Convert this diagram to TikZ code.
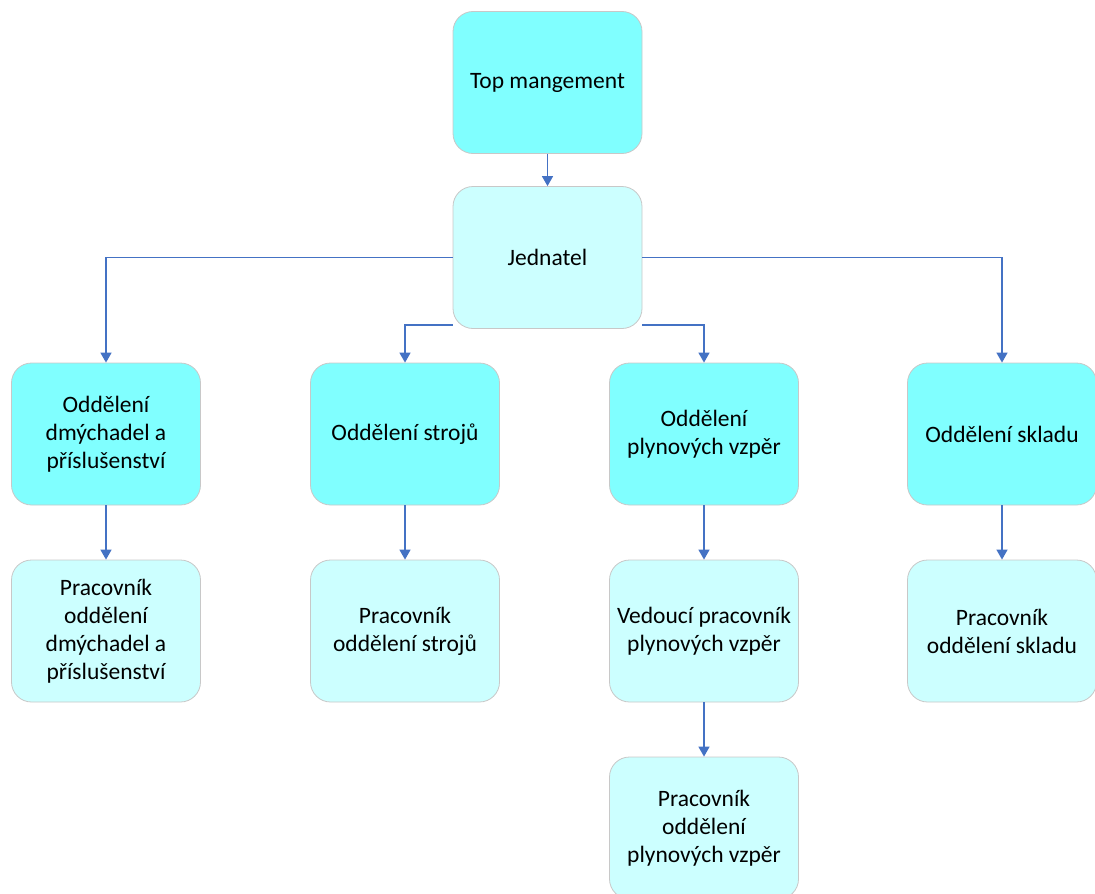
\documentclass[tikz,border=0pt]{standalone}
\usepackage{fontspec}
\setmainfont{Carlito}
\usetikzlibrary{arrows.meta}
\definecolor{dark}{RGB}{128,255,255}
\definecolor{light}{RGB}{204,255,255}
\definecolor{edge}{RGB}{200,200,200}
\definecolor{conn}{RGB}{68,114,196}
\tikzset{
  box/.style={draw=edge, line width=0.8pt, rounded corners=20pt, minimum width=189pt, minimum height=142pt, align=center, font=\fontsize{23.5}{28}\selectfont, inner sep=0pt},
  dbox/.style={box, fill=dark},
  lbox/.style={box, fill=light},
  conn/.style={draw=conn, line width=1.5pt, -{Triangle[width=11pt,length=10pt]}}
}
\begin{document}
\begin{tikzpicture}[x=1pt,y=-1pt]
\useasboundingbox (0,0) rectangle (1095,894);
\clip (0,0) rectangle (1095,894);
\node[dbox] (top) at (547.5,82.5) {Top mangement};
\node[lbox] (jed) at (547.5,257.5) {Jednatel};
\node[dbox] (o1) at (106,434) {Oddělení\\dmýchadel a\\příslušenství};
\node[dbox] (o2) at (405,434) {Oddělení strojů};
\node[dbox] (o3) at (704,434) {Oddělení\\plynových vzpěr};
\node[dbox] (o4) at (1002,434) {Oddělení skladu};
\node[lbox] (p1) at (106,631) {Pracovník\\oddělení\\dmýchadel a\\příslušenství};
\node[lbox] (p2) at (405,631) {Pracovník\\oddělení strojů};
\node[lbox] (p3) at (704,631) {Vedoucí pracovník\\plynových vzpěr};
\node[lbox] (p4) at (1002,631) {Pracovník\\oddělení skladu};
\node[lbox] (p5) at (704,828) {Pracovník\\oddělení\\plynových vzpěr};
\draw[conn] (top) -- (jed);
\draw[conn] (jed.west) -| (o1.north);
\draw[conn] (jed.east) -| (o4.north);
\draw[conn] ([yshift=4pt]jed.south west) -| (o2.north);
\draw[conn] ([yshift=4pt]jed.south east) -| (o3.north);
\draw[conn] (o1) -- (p1);
\draw[conn] (o2) -- (p2);
\draw[conn] (o3) -- (p3);
\draw[conn] (o4) -- (p4);
\draw[conn] (p3) -- (p5);
\end{tikzpicture}
\end{document}
